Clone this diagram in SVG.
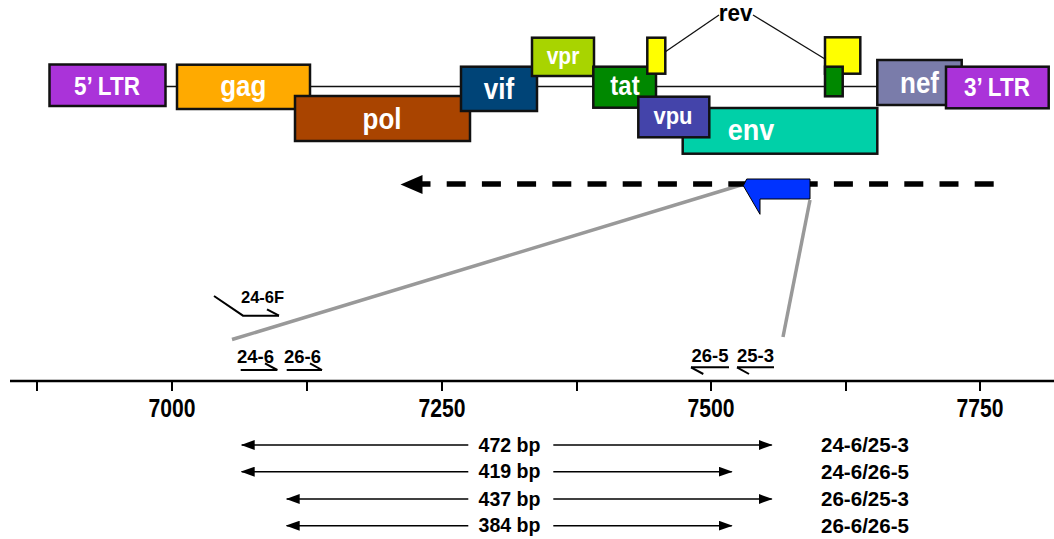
<svg xmlns="http://www.w3.org/2000/svg" width="1054" height="539" viewBox="0 0 1054 539">
<defs>
<style>
.box{stroke:#111;stroke-width:2.5}
.gl{font-family:"Liberation Sans",Arial,sans-serif;font-weight:bold;fill:#fff;text-anchor:middle}
.bt{font-family:"Liberation Sans",Arial,sans-serif;font-weight:bold;fill:#000}
.thin{stroke:#111;stroke-width:1.3;fill:none}
.gray{stroke:#999;stroke-width:3.5;fill:none}
.primer{stroke:#000;stroke-width:2;fill:none}
.bp{stroke:#000;stroke-width:1.5;fill:none}
.tick{stroke:#000;stroke-width:2}
</style>
<marker id="ah" markerWidth="14" markerHeight="10" refX="13" refY="5" orient="auto-start-reverse" markerUnits="userSpaceOnUse"><path d="M0,0 L14,5 L0,10 z" fill="#000"/></marker>
</defs>
<rect width="1054" height="539" fill="#fff"/>

<g id="connectors">
<line class="thin" x1="165" y1="86.5" x2="878" y2="86.5"/>
<polyline class="thin" points="665,52 719,15"/>
<polyline class="thin" points="753,15 825,59"/>
<line class="gray" x1="232" y1="339.5" x2="741" y2="185"/>
<line class="gray" x1="810" y1="200" x2="783" y2="337"/>
<g id="scan-arrow">
<line x1="411.5" y1="184" x2="995" y2="184" stroke="#000" stroke-width="5.3" stroke-dasharray="19 16.2"/>
<polygon points="400.5,184.5 422.5,175 422.5,194" fill="#000"/>
</g>
<g id="bp-arrows">
<line class="bp" x1="241.7" y1="445" x2="468.3" y2="445" marker-start="url(#ah)"/>
<line class="bp" x1="553.3" y1="445" x2="771.7" y2="445" marker-end="url(#ah)"/>
<line class="bp" x1="241.7" y1="471.7" x2="468.3" y2="471.7" marker-start="url(#ah)"/>
<line class="bp" x1="553.3" y1="471.7" x2="731.7" y2="471.7" marker-end="url(#ah)"/>
<line class="bp" x1="286.7" y1="499" x2="468.3" y2="499" marker-start="url(#ah)"/>
<line class="bp" x1="553.3" y1="499" x2="771.7" y2="499" marker-end="url(#ah)"/>
<line class="bp" x1="286.7" y1="525.7" x2="468.3" y2="525.7" marker-start="url(#ah)"/>
<line class="bp" x1="553.3" y1="525.7" x2="731.7" y2="525.7" marker-end="url(#ah)"/>
</g>
</g>

<g id="ltr5"><rect class="box" x="49.5" y="64.5" width="116" height="41.5" fill="#AA33D9"/><text class="gl" transform="translate(107,95) scale(1,1.15)" font-size="22.5">5’ LTR</text></g>
<g id="gag"><rect class="box" x="177" y="64.7" width="133" height="44.3" fill="#FFAA00"/><text class="gl" transform="translate(243.3,95.7) scale(1,1.12)" font-size="26">gag</text></g>
<g id="pol"><rect class="box" x="295" y="96" width="175" height="45" fill="#A94400"/><text class="gl" transform="translate(382,129.3) scale(1,1.12)" font-size="26">pol</text></g>
<g id="vif"><rect class="box" x="461" y="66.7" width="76" height="44.3" fill="#004477"/><text class="gl" transform="translate(499,99) scale(1,1.12)" font-size="26">vif</text></g>
<g id="vpr"><rect class="box" x="532" y="37.7" width="62" height="38.3" fill="#A8D400"/><text class="gl" transform="translate(563,64) scale(1,1.12)" font-size="21">vpr</text></g>
<g id="tat"><rect class="box" x="593.3" y="66.7" width="62.7" height="41" fill="#008800"/><text class="gl" transform="translate(625,95) scale(1,1.12)" font-size="24">tat</text></g>
<g id="rev1"><rect class="box" x="647.3" y="37.7" width="18" height="36" fill="#FFFF00"/></g>
<g id="env"><rect class="box" x="682.7" y="108" width="194.6" height="45.7" fill="#00D0A8"/><text class="gl" transform="translate(751,140) scale(1,1.12)" font-size="27">env</text></g>
<g id="vpu"><rect class="box" x="638.3" y="96.7" width="71" height="40.6" fill="#4444AA"/><text class="gl" transform="translate(673,124) scale(1,1.12)" font-size="22">vpu</text></g>
<g id="rev2"><rect class="box" x="825" y="37.3" width="35.3" height="36.4" fill="#FFFF00"/></g>
<g id="tat2"><rect class="box" x="825" y="66.7" width="17.7" height="29.6" fill="#008800"/></g>
<g id="nef"><rect class="box" x="877.3" y="60" width="84.4" height="45" fill="#7A7CAA"/><text class="gl" transform="translate(919.5,92.7) scale(1,1.12)" font-size="26">nef</text></g>
<g id="ltr3"><rect class="box" x="946" y="66.7" width="102.7" height="41.6" fill="#AA33D9"/><text class="gl" transform="translate(997,96) scale(1,1.15)" font-size="22.5">3’ LTR</text></g>
<g id="rev-label"><text class="bt" transform="translate(735.6,21) scale(1,1.1)" font-size="22.5" text-anchor="middle">rev</text></g>

<g id="target"><polygon points="743.3,185.7 746.7,179 810,179 810,199 760,199 760,214.3" fill="#0033FF" stroke="#000" stroke-width="1"/></g>

<g id="primers">
<g id="p24-6F"><polyline class="primer" points="214,296 243,315.7 279,315.7"/><line class="primer" x1="267" y1="309.3" x2="279" y2="315.7"/><text class="bt" x="241" y="303" font-size="16.5">24-6F</text></g>
<g id="p24-6"><line class="primer" x1="240.7" y1="370" x2="277.3" y2="370"/><line class="primer" x1="265" y1="363.3" x2="277.3" y2="370"/><text class="bt" x="237" y="363" font-size="17.5" textLength="37" lengthAdjust="spacingAndGlyphs">24-6</text></g>
<g id="p26-6"><line class="primer" x1="286.7" y1="370" x2="322" y2="370"/><line class="primer" x1="310" y1="363.3" x2="322" y2="370"/><text class="bt" x="284" y="363" font-size="17.5" textLength="37" lengthAdjust="spacingAndGlyphs">26-6</text></g>
<g id="p26-5"><line class="primer" x1="691" y1="367.3" x2="729" y2="367.3"/><line class="primer" x1="691" y1="367.3" x2="703.3" y2="374"/><text class="bt" x="691.5" y="362" font-size="17.5" textLength="37" lengthAdjust="spacingAndGlyphs">26-5</text></g>
<g id="p25-3"><line class="primer" x1="737" y1="367.3" x2="774" y2="367.3"/><line class="primer" x1="737" y1="367.3" x2="749" y2="374"/><text class="bt" x="737" y="362" font-size="17.5" textLength="37" lengthAdjust="spacingAndGlyphs">25-3</text></g>
</g>

<g id="axis">
<line x1="10" y1="381" x2="1054" y2="381" stroke="#000" stroke-width="2.5"/>
<line class="tick" x1="37" y1="381" x2="37" y2="391"/>
<line class="tick" x1="172" y1="381" x2="172" y2="391"/>
<line class="tick" x1="307" y1="381" x2="307" y2="391"/>
<line class="tick" x1="442" y1="381" x2="442" y2="391"/>
<line class="tick" x1="577" y1="381" x2="577" y2="391"/>
<line class="tick" x1="711" y1="381" x2="711" y2="391"/>
<line class="tick" x1="846" y1="381" x2="846" y2="391"/>
<line class="tick" x1="980" y1="381" x2="980" y2="391"/>
<text class="bt" x="172" y="417" font-size="25" text-anchor="middle" textLength="47" lengthAdjust="spacingAndGlyphs">7000</text>
<text class="bt" x="442" y="417" font-size="25" text-anchor="middle" textLength="47" lengthAdjust="spacingAndGlyphs">7250</text>
<text class="bt" x="711" y="417" font-size="25" text-anchor="middle" textLength="47" lengthAdjust="spacingAndGlyphs">7500</text>
<text class="bt" x="980" y="417" font-size="25" text-anchor="middle" textLength="47" lengthAdjust="spacingAndGlyphs">7750</text>
</g>

<g id="bp-labels">
<text class="bt" x="478.5" y="451.5" font-size="19.5" textLength="62" lengthAdjust="spacingAndGlyphs">472 bp</text>
<text class="bt" x="478.5" y="478.2" font-size="19.5" textLength="62" lengthAdjust="spacingAndGlyphs">419 bp</text>
<text class="bt" x="478.5" y="505.5" font-size="19.5" textLength="62" lengthAdjust="spacingAndGlyphs">437 bp</text>
<text class="bt" x="478.5" y="532.2" font-size="19.5" textLength="62" lengthAdjust="spacingAndGlyphs">384 bp</text>
<text class="bt" x="821" y="452" font-size="19.5" textLength="88" lengthAdjust="spacingAndGlyphs">24-6/25-3</text>
<text class="bt" x="821" y="478.7" font-size="19.5" textLength="88" lengthAdjust="spacingAndGlyphs">24-6/26-5</text>
<text class="bt" x="821" y="506" font-size="19.5" textLength="88" lengthAdjust="spacingAndGlyphs">26-6/25-3</text>
<text class="bt" x="821" y="532.7" font-size="19.5" textLength="88" lengthAdjust="spacingAndGlyphs">26-6/26-5</text>
</g>
</svg>
